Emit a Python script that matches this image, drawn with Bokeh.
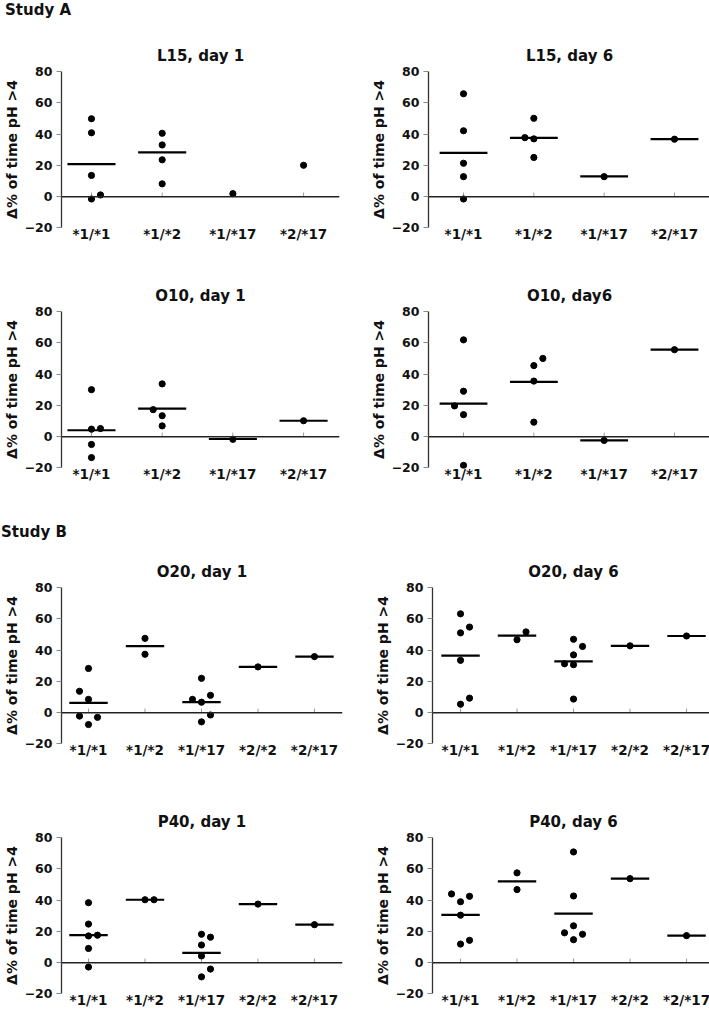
from bokeh.plotting import figure
from bokeh.models import FixedTicker, Span, Title, Div
from bokeh.layouts import column, row
from bokeh.embed import file_html
from bokeh.resources import INLINE

cats4 = ["*1/*1", "*1/*2", "*1/*17", "*2/*17"]
cats5 = ["*1/*1", "*1/*2", "*1/*17", "*2/*2", "*2/*17"]
y_ticks = [-20, 0, 20, 40, 60, 80]
y_label = "Δ% of time pH >4"
study_a = "Study A"
study_b = "Study B"

# Study A, L15 day 1
l15d1_group = [0, 0, 0, 0, 0, 1, 1, 1, 1, 2, 3]
l15d1_value = [49.9, 40.9, 13.6, 1.1, -1.5, 40.6, 33.1, 23.6, 8.2, 1.9, 20.1]
l15d1_lane = [0, 0, 0, 1, 0, 0, 0, 0, 0, 0, 0]
l15d1_mean = [20.8, 28.3, None, None]

# Study A, L15 day 6
l15d6_group = [0, 0, 0, 0, 0, 1, 1, 1, 1, 2, 3]
l15d6_value = [65.9, 42.2, 21.4, 12.8, -1.5, 50.2, 37.8, 37.0, 25.1, 12.8, 36.8]
l15d6_lane = [0, 0, 0, 0, 0, 0, -1, 0, 0, 0, 0]
l15d6_mean = [28.1, 37.6, 13.0, 36.8]

# Study A, O10 day 1
o10d1_group = [0, 0, 0, 0, 0, 1, 1, 1, 1, 2, 3]
o10d1_value = [30.1, 4.8, 5.2, -5.0, -13.4, 33.8, 17.3, 13.4, 6.9, -1.7, 10.2]
o10d1_lane = [0, 0, 1, 0, 0, 0, -1, 0, 0, 0, 0]
o10d1_mean = [4.1, 18.0, -1.5, 10.2]

# Study A, O10 day 6
o10d6_group = [0, 0, 0, 0, 0, 1, 1, 1, 1, 2, 3]
o10d6_value = [62.0, 29.1, 19.7, 14.1, -18.4, 50.1, 45.5, 35.6, 9.3, -2.4, 55.7]
o10d6_lane = [0, 0, -1, 0, 0, 1, 0, 0, 0, 0, 0]
o10d6_mean = [21.2, 35.1, -2.4, 55.7]

# Study B, O20 day 1
o20d1_group = [0, 0, 0, 0, 0, 0, 1, 1, 2, 2, 2, 2, 2, 2, 3, 4]
o20d1_value = [28.3, 13.7, 8.5, -2.2, -3.0, -7.6, 47.6, 37.4,
               22.0, 11.1, 8.5, 6.7, -1.5, -5.9, 29.3, 35.9]
o20d1_lane = [0, -1, 0, -1, 1, 0, 0, 0, 0, 1, -1, 0, 1, 0, 0, 0]
o20d1_mean = [6.3, 42.6, 6.7, 29.3, 35.9]

# Study B, O20 day 6
o20d6_group = [0, 0, 0, 0, 0, 0, 1, 1, 2, 2, 2, 2, 2, 2, 3, 4]
o20d6_value = [63.3, 54.8, 51.1, 33.5, 9.3, 5.4, 51.7, 46.7,
               47.0, 42.4, 37.0, 31.3, 30.7, 8.7, 42.8, 49.1]
o20d6_lane = [0, 1, 0, 0, 1, 0, 1, 0, 0, 1, 0, -1, 0, 0, 0, 0]
o20d6_mean = [36.5, 49.3, 32.8, 42.8, 49.1]

# Study B, P40 day 1
p40d1_group = [0, 0, 0, 0, 0, 0, 1, 1, 2, 2, 2, 2, 2, 2, 3, 4]
p40d1_value = [38.4, 24.7, 17.6, 17.1, 9.1, -2.8, 40.3, 40.3,
               18.2, 16.3, 11.3, 4.3, -4.1, -9.1, 37.5, 24.3]
p40d1_lane = [0, 0, 1, 0, 0, 0, 0, 1, 0, 1, 0, 0, 1, 0, 0, 0]
p40d1_mean = [17.6, 40.3, 6.3, 37.5, 24.3]

# Study B, P40 day 6
p40d6_group = [0, 0, 0, 0, 0, 0, 1, 1, 2, 2, 2, 2, 2, 2, 3, 4]
p40d6_value = [44.0, 42.5, 39.0, 30.4, 14.3, 11.9, 57.5, 46.8,
               70.9, 42.7, 23.6, 19.1, 18.2, 14.7, 53.8, 17.3]
p40d6_lane = [-1, 1, 0, 0, 1, 0, 0, 0, 0, 0, 0, -1, 1, 0, 0, 0]
p40d6_mean = [30.6, 52.0, 31.4, 53.8, 17.3]

FONT = "DejaVu Sans"
INK = "#111111"
FRAME_H = 158
Y0, Y1 = -20.4, 80.8


def panel(title, cats, group, vals, lanes, means, left, frame_w, right,
          x0, x1, top, bottom):
    p = figure(frame_width=frame_w, frame_height=FRAME_H,
               x_range=(x0, x1), y_range=(Y0, Y1),
               output_backend="svg", toolbar_location=None, title=None,
               min_border_left=left, min_border_right=right,
               min_border_top=top, min_border_bottom=bottom)
    p.outline_line_color = None
    p.grid.visible = False
    p.background_fill_color = "white"
    p.border_fill_color = "white"

    px_per_cat = frame_w / (x1 - x0)
    lane_w = 9.0 / px_per_cat
    half = 0.34

    # zero line and small category ticks on it
    p.add_layout(Span(location=0, dimension="width", line_color="#222222",
                      line_width=1.5))
    idx = list(range(len(cats)))
    p.segment(x0=idx, x1=idx, y0=[0] * len(idx), y1=[2.6] * len(idx),
              line_color="#9a9a9a", line_width=1)

    # mean lines
    mi = [i for i, m in enumerate(means) if m is not None]
    mv = [means[i] for i in mi]
    p.segment(x0=[i - half for i in mi], x1=[i + half for i in mi],
              y0=mv, y1=mv, line_color="black", line_width=2.2)

    # points
    xs = [g + l * lane_w for g, l in zip(group, lanes)]
    p.scatter(x=xs, y=vals, size=6.2, fill_color="black", line_color="black")

    # y axis
    ya = p.yaxis[0]
    ya.ticker = FixedTicker(ticks=y_ticks)
    ya.bounds = (-20, 80)
    ya.major_label_overrides = {-20: "−20"}
    ya.minor_tick_line_color = None
    ya.major_tick_in = 0
    ya.major_tick_out = 5
    ya.major_tick_line_color = "#888888"
    ya.axis_line_color = "#333333"
    ya.axis_line_width = 1.3
    ya.major_label_standoff = 4
    ya.major_label_text_font = FONT
    ya.major_label_text_font_style = "bold"
    ya.major_label_text_font_size = "12.5px"
    ya.major_label_text_color = INK
    ya.axis_label = y_label
    ya.axis_label_text_font = FONT
    ya.axis_label_text_font_style = "bold"
    ya.axis_label_text_font_size = "14px"
    ya.axis_label_text_color = INK
    ya.axis_label_standoff = 2

    # x axis: labels only
    xa = p.xaxis[0]
    xa.ticker = FixedTicker(ticks=idx)
    xa.major_label_overrides = {i: c for i, c in enumerate(cats)}
    xa.axis_line_color = None
    xa.major_tick_line_color = None
    xa.minor_tick_line_color = None
    xa.major_tick_out = 0
    xa.major_tick_in = 0
    xa.major_label_standoff = -3
    xa.major_label_text_font = FONT
    xa.major_label_text_font_style = "bold"
    xa.major_label_text_font_size = "13.5px"
    xa.major_label_text_color = INK

    p.add_layout(Title(text=title, align="center", text_font=FONT,
                       text_font_style="bold", text_font_size="15px",
                       text_color=INK, standoff=12), "above")
    return p


def heading(text, height, pad_top, pad_left):
    html = ('<div style="font-family:\'DejaVu Sans\';font-weight:bold;'
            'font-size:15px;line-height:20px;color:%s;white-space:nowrap;'
            'padding-top:%dpx;padding-left:%dpx;">%s</div>'
            % (INK, pad_top, pad_left, text))
    return Div(text=html, width=709, height=height, margin=(0, 0, 0, 0))


# x ranges: category centres placed as in the figure
L4 = dict(left=60, frame_w=278, right=16, x0=-0.424, x1=3.508)
R4 = dict(left=73, frame_w=282, right=0, x0=-0.498, x1=3.512)
L5 = dict(left=56, frame_w=281, right=17, x0=-0.478, x1=4.496)
R5 = dict(left=73, frame_w=282, right=0, x0=-0.496, x1=4.495)

p1 = panel("L15, day 1", cats4, l15d1_group, l15d1_value, l15d1_lane, l15d1_mean,
           top=50, bottom=16, **L4)
p2 = panel("L15, day 6", cats4, l15d6_group, l15d6_value, l15d6_lane, l15d6_mean,
           top=50, bottom=16, **R4)
p3 = panel("O10, day 1", cats4, o10d1_group, o10d1_value, o10d1_lane, o10d1_mean,
           top=66, bottom=16, **L4)
p4 = panel("O10, day6", cats4, o10d6_group, o10d6_value, o10d6_lane, o10d6_mean,
           top=66, bottom=16, **R4)
p5 = panel("O20, day 1", cats5, o20d1_group, o20d1_value, o20d1_lane, o20d1_mean,
           top=44, bottom=16, **L5)
p6 = panel("O20, day 6", cats5, o20d6_group, o20d6_value, o20d6_lane, o20d6_mean,
           top=44, bottom=16, **R5)
p7 = panel("P40, day 1", cats5, p40d1_group, p40d1_value, p40d1_lane, p40d1_mean,
           top=76, bottom=16, **L5)
p8 = panel("P40, day 6", cats5, p40d6_group, p40d6_value, p40d6_lane, p40d6_mean,
           top=76, bottom=16, **R5)

layout = column(heading(study_a, 20, 0, 5), row(p1, p2), row(p3, p4),
                heading(study_b, 58, 38, 1), row(p5, p6), row(p7, p8))
open("out.html", "w").write(file_html(layout, INLINE))
